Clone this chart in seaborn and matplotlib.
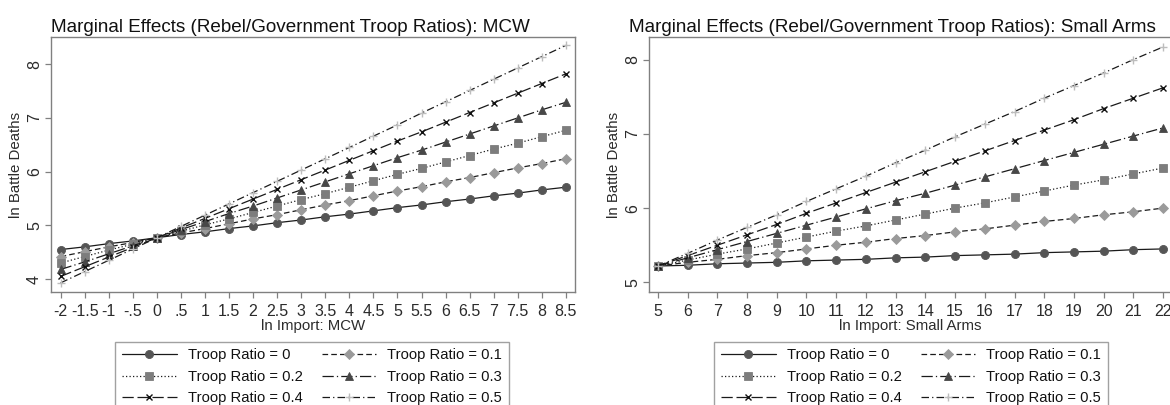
import numpy as np
import pandas as pd
import matplotlib
matplotlib.use("Agg")
import matplotlib.pyplot as plt
import seaborn as sns

# ---------------- data ----------------
ratios = ["0", "0.1", "0.2", "0.3", "0.4", "0.5"]

mcw_x = [-2, -1.5, -1, -0.5, 0, 0.5, 1, 1.5, 2, 2.5, 3, 3.5, 4, 4.5, 5, 5.5, 6, 6.5, 7, 7.5, 8, 8.5]
mcw_tick_labels = ["-2", "-1.5", "-1", "-.5", "0", ".5", "1", "1.5", "2", "2.5", "3", "3.5",
                   "4", "4.5", "5", "5.5", "6", "6.5", "7", "7.5", "8", "8.5"]
mcw_r00 = [4.55, 4.60, 4.66, 4.71, 4.77, 4.83, 4.88, 4.94, 4.99, 5.05, 5.10, 5.16, 5.21, 5.27, 5.33, 5.38, 5.44, 5.49, 5.55, 5.60, 5.66, 5.71]
mcw_r01 = [4.42, 4.51, 4.60, 4.68, 4.77, 4.86, 4.94, 5.03, 5.12, 5.20, 5.29, 5.38, 5.46, 5.55, 5.64, 5.72, 5.81, 5.89, 5.98, 6.07, 6.15, 6.24]
mcw_r02 = [4.30, 4.42, 4.54, 4.65, 4.77, 4.89, 5.01, 5.12, 5.24, 5.36, 5.48, 5.59, 5.71, 5.83, 5.95, 6.06, 6.18, 6.30, 6.42, 6.53, 6.65, 6.77]
mcw_r03 = [4.18, 4.32, 4.47, 4.62, 4.77, 4.92, 5.07, 5.22, 5.36, 5.51, 5.66, 5.81, 5.96, 6.11, 6.26, 6.40, 6.55, 6.70, 6.85, 7.00, 7.15, 7.29]
mcw_r04 = [4.05, 4.23, 4.41, 4.59, 4.77, 4.95, 5.13, 5.31, 5.49, 5.67, 5.85, 6.03, 6.21, 6.39, 6.57, 6.74, 6.92, 7.10, 7.28, 7.46, 7.64, 7.82]
mcw_r05 = [3.93, 4.14, 4.35, 4.56, 4.77, 4.98, 5.19, 5.40, 5.61, 5.82, 6.03, 6.24, 6.45, 6.66, 6.87, 7.09, 7.30, 7.51, 7.72, 7.93, 8.14, 8.35]

sa_x = [5, 6, 7, 8, 9, 10, 11, 12, 13, 14, 15, 16, 17, 18, 19, 20, 21, 22]
sa_r00 = [5.22, 5.23, 5.25, 5.26, 5.27, 5.29, 5.30, 5.31, 5.33, 5.34, 5.36, 5.37, 5.38, 5.40, 5.41, 5.42, 5.44, 5.45]
sa_r01 = [5.22, 5.27, 5.31, 5.36, 5.40, 5.45, 5.50, 5.54, 5.59, 5.63, 5.68, 5.72, 5.77, 5.82, 5.86, 5.91, 5.95, 6.00]
sa_r02 = [5.22, 5.30, 5.38, 5.45, 5.53, 5.61, 5.69, 5.76, 5.84, 5.92, 6.00, 6.07, 6.15, 6.23, 6.31, 6.38, 6.46, 6.54]
sa_r03 = [5.22, 5.33, 5.44, 5.55, 5.66, 5.77, 5.88, 5.99, 6.10, 6.20, 6.31, 6.42, 6.53, 6.64, 6.75, 6.86, 6.97, 7.08]
sa_r04 = [5.22, 5.36, 5.50, 5.64, 5.78, 5.93, 6.07, 6.21, 6.35, 6.49, 6.63, 6.77, 6.91, 7.05, 7.19, 7.34, 7.48, 7.62]
sa_r05 = [5.22, 5.39, 5.57, 5.74, 5.91, 6.09, 6.26, 6.43, 6.61, 6.78, 6.96, 7.13, 7.30, 7.48, 7.65, 7.82, 8.00, 8.17]

mcw_series = [mcw_r00, mcw_r01, mcw_r02, mcw_r03, mcw_r04, mcw_r05]
sa_series = [sa_r00, sa_r01, sa_r02, sa_r03, sa_r04, sa_r05]

# ---------------- styles ----------------
sns.set_theme(style="white")
plt.rcParams["font.family"] = ["Liberation Sans", "DejaVu Sans"]

line_color = "#1a1a1a"
styles = [
    dict(marker="o", ms=5.8, mfc="#555555", mec="#555555", ls="-"),
    dict(marker="D", ms=5.3, mfc="#9a9a9a", mec="#9a9a9a", ls=(0, (4.5, 2.5))),
    dict(marker="s", ms=6.0, mfc="#7d7d7d", mec="#7d7d7d", ls=(0, (1, 1.8))),
    dict(marker="^", ms=6.3, mfc="#474747", mec="#474747", ls=(0, (9, 2.5, 1, 2.5))),
    dict(marker="x", ms=4.5, mfc="#111111", mec="#111111", ls=(0, (9, 3))),
    dict(marker="+", ms=6.2, mfc="#bdbdbd", mec="#bdbdbd", ls=(0, (6, 2.5, 1, 2.5))),
]

W, H = 1170, 405
fig = plt.figure(figsize=(W / 100, H / 100), dpi=100)

ax_l = fig.add_axes([51 / W, 1 - 292 / H, (575 - 51) / W, (292 - 37.3) / H])
ax_r = fig.add_axes([649 / W, 1 - 292 / H, (1172 - 649) / W, (292 - 37.3) / H])

spine_col = "#808080"
text_col = "#2b2b2b"


def draw(ax, x, series, xticks, xticklabels, yticks, xlim, ylim, xlabel):
    for r, yv, st in zip(ratios, series, styles):
        df = pd.DataFrame({"x": x, "y": yv})
        sns.lineplot(data=df, x="x", y="y", ax=ax, color=line_color, lw=0.9,
                     linestyle=st["ls"], marker=st["marker"], markersize=st["ms"],
                     markerfacecolor=st["mfc"], markeredgecolor=st["mec"],
                     markeredgewidth=1.0 if st["marker"] in ("x", "+") else 0.6,
                     label=f"Troop Ratio = {r}", legend=False, errorbar=None, sort=False)
    ax.set_xlim(*xlim)
    ax.set_ylim(*ylim)
    ax.set_xticks(xticks)
    ax.set_xticklabels(xticklabels)
    ax.set_yticks(yticks)
    ax.set_yticklabels([str(v) for v in yticks], rotation=90, va="center")
    ax.tick_params(axis="both", which="major", length=4.3, width=0.9, color=spine_col,
                   labelsize=11.5, labelcolor=text_col, bottom=True, left=True, direction="out")
    ax.tick_params(axis="x", pad=4.2)
    ax.tick_params(axis="y", pad=2.2)
    for s in ax.spines.values():
        s.set_color(spine_col)
        s.set_linewidth(1.0)
    ax.set_xlabel(xlabel, fontsize=10.8, color=text_col, labelpad=0)
    ax.set_ylabel("ln Battle Deaths", fontsize=10.8, color=text_col, labelpad=3.2)
    ax.grid(False)


draw(ax_l, mcw_x, mcw_series, mcw_x, mcw_tick_labels, [4, 5, 6, 7, 8],
     (-2.20, 8.69), (3.76, 8.50), "ln Import: MCW")
draw(ax_r, sa_x, sa_series, sa_x, [str(v) for v in sa_x], [5, 6, 7, 8],
     (4.70, 22.30), (4.87, 8.30), "ln Import: Small Arms")

fig.text(290.8 / W, 1 - 27 / H, "Marginal Effects (Rebel/Government Troop Ratios): MCW",
         ha="center", va="center", fontsize=13.6, color="#111111")
fig.text(892 / W, 1 - 27 / H, "Marginal Effects (Rebel/Government Troop Ratios): Small Arms",
         ha="center", va="center", fontsize=13.6, color="#111111")

order = [0, 2, 4, 1, 3, 5]  # row-wise filling: (0, 0.1), (0.2, 0.3), (0.4, 0.5)
for ax, cx in ((ax_l, 312 / W), (ax_r, 911 / W)):
    lines = ax.get_lines()[:6]
    handles = [lines[i] for i in order]
    labels = [h.get_label() for h in handles]
    leg = fig.legend(handles, labels, loc="upper center", bbox_to_anchor=(cx, 1 - 341.7 / H),
                     ncol=2, frameon=True, fontsize=10.6, handlelength=3.7, handletextpad=0.75,
                     columnspacing=1.3, labelspacing=0.5, borderpad=0.45, numpoints=1,
                     fancybox=False, borderaxespad=0)
    leg.get_frame().set_edgecolor("#8a8a8a")
    leg.get_frame().set_linewidth(1.0)
    for t in leg.get_texts():
        t.set_color("#111111")

fig.savefig("out.png", dpi=100)
